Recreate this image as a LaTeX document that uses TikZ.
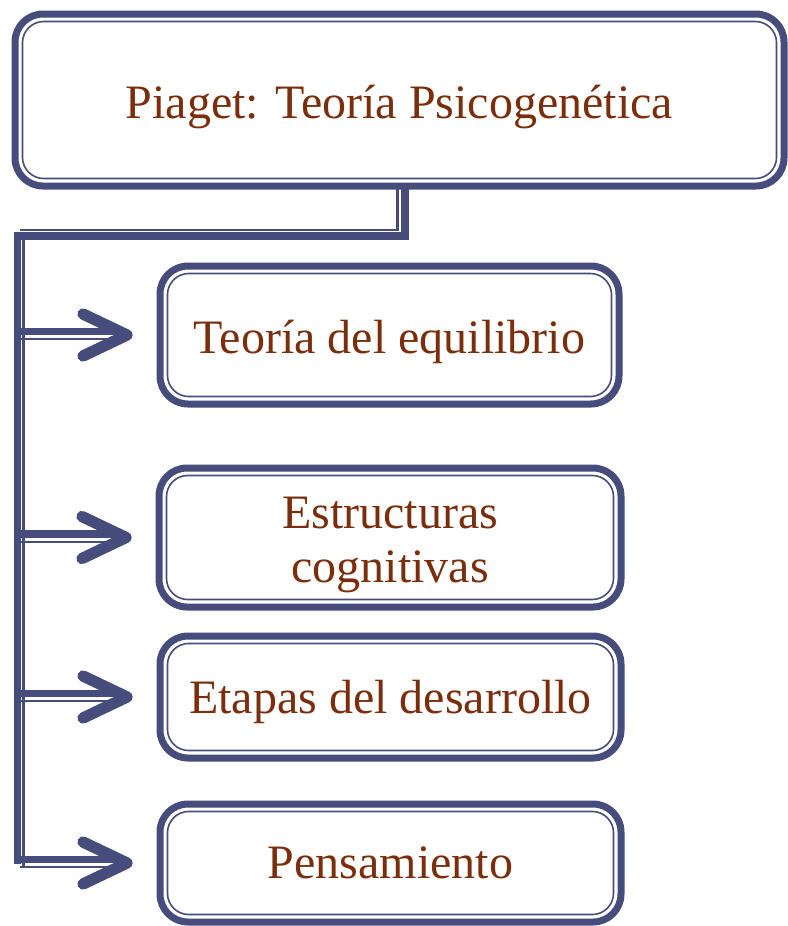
\documentclass[tikz,border=0pt]{standalone}
\usepackage{fontspec}
\setmainfont{Liberation Serif}
\usepackage{xcolor}
\usetikzlibrary{calc}
\definecolor{navy}{HTML}{464D7C}
\definecolor{brick}{HTML}{7A2E0C}

\tikzset{
  frame/.style={draw=navy, line width=5.25pt, rounded corners=21pt, fill=white,
    text=brick, font=\fontsize{36}{41}\selectfont, align=center,
    inner sep=0pt, outer sep=0pt, text depth=8pt},
  innerframe/.style={draw=navy, line width=1.2pt, rounded corners=16pt},
  thickline/.style={navy, line width=5.5pt},
  thinline/.style={navy, line width=1.6pt},
  chev/.style={navy, line width=8.5pt, line cap=round, line join=round},
}

\begin{document}
\begin{tikzpicture}[x=0.75pt, y=-0.75pt]
    \useasboundingbox (0,0) rectangle (788,926);

    % corners of the double connector
    \coordinate (elbowR) at (405,236);
    \coordinate (elbowL) at (17.5,236);
    \coordinate (foot) at (17.5,864);
    \coordinate (thinR) at (397.5,230);
    \coordinate (thinL) at (20,230);
    \coordinate (railT) at (23.5,240);
    \coordinate (railB) at (23.5,867);

    % boxes
    \node[frame, minimum width=576.75pt, minimum height=129pt, text height=35pt] (top) at (399.5,100)
        {Piaget: Teoría Psicogenética};
    \node[frame, minimum width=344.25pt, minimum height=103.5pt, text height=35pt] (b1) at (389.5,335)
        {Teoría del equilibrio};
    \node[frame, minimum width=346.5pt, minimum height=104.25pt, text height=76pt] (b2) at (390,537.5)
        {Estructuras\\cognitivas};
    \node[frame, minimum width=345.75pt, minimum height=91.5pt, text height=32pt] (b3) at (390.5,697)
        {Etapas del desarrollo};
    \node[frame, minimum width=345.75pt, minimum height=88.5pt, text height=31pt] (b4) at (390.5,863)
        {Pensamiento};

    \foreach \n in {top,b1,b2,b3,b4}
        \draw[innerframe] ([shift={(5.6pt,5.6pt)}]\n.south west) rectangle ([shift={(-5.6pt,-5.6pt)}]\n.north east);

    % trunk
    \draw[thickline] (top.south -| elbowR) -- (elbowR) -- (elbowL) -- (foot);
    \draw[thinline] (top.south -| thinR) -- (thinR) -- (thinL);
    \draw[thinline] (railT) -- (railB);

    % branches
    \foreach \n in {b1,b2,b3,b4} {
        \draw[thickline] ([yshift=2.6pt]\n.west -| elbowL) -- ([xshift=-28pt,yshift=2.6pt]\n.west);
        \draw[thinline] ([yshift=-3.2pt]\n.west -| thinL) -- ([xshift=-30pt,yshift=-3.2pt]\n.west);
        \draw[chev] ([xshift=-57.75pt,yshift=15.75pt]\n.west) -- ([xshift=-24.75pt]\n.west)
            -- ([xshift=-57.75pt,yshift=-15.75pt]\n.west);
    }
\end{tikzpicture}
\end{document}
